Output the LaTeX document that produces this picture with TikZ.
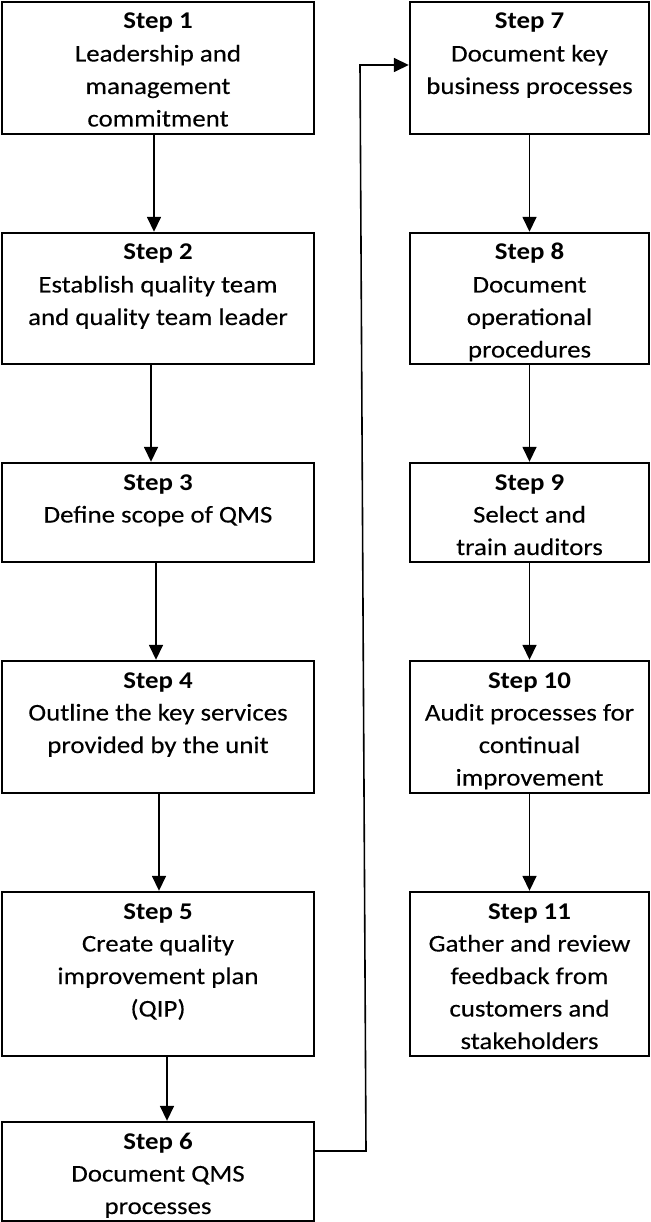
\documentclass[tikz,border=0pt]{standalone}
\usepackage{fontspec}
\setmainfont{Carlito}[FakeStretch=1.12, UprightFeatures={FakeBold=0.2}]
\usetikzlibrary{arrows.meta}
\newcommand{\bx}[3]{\parbox[c][#2pt][t]{#1pt}{\centering\rule{0pt}{27pt}#3}}
\begin{document}
\begin{tikzpicture}[x=1pt,y=-1pt,
  box/.style={draw, line width=2.4pt, inner sep=0pt},
  arr/.style={line width=1.6pt, -{Triangle[length=15pt,width=14pt]}},
  font=\fontsize{24pt}{32.5pt}\selectfont]
\fill[white] (0,0) rectangle (650,1222);
\useasboundingbox (0,0) rectangle (650,1222);
% left column
\node[box] (b1) at (158,68) {\bx{312}{132}{\textbf{Step 1}\\Leadership and\\management\\commitment}};
\node[box] (b2) at (158,298.5) {\bx{312}{131}{\textbf{Step 2}\\Establish quality team\\and quality team leader}};
\node[box] (b3) at (158,512.5) {\bx{312}{99}{\textbf{Step 3}\\Define scope of QMS}};
\node[box] (b4) at (158,727) {\bx{312}{132}{\textbf{Step 4}\\Outline the key services\\provided by the unit}};
\node[box] (b5) at (158,974) {\bx{312}{164}{\textbf{Step 5}\\Create quality\\improvement plan\\(QIP)}};
\node[box] (b6) at (158,1171.5) {\bx{312}{99}{\textbf{Step 6}\\Document QMS\\processes}};
% right column
\node[box] (b7) at (529.5,68) {\bx{239}{132}{\textbf{Step 7}\\Document key\\business processes}};
\node[box] (b8) at (529.5,298.5) {\bx{239}{131}{\textbf{Step 8}\\Document\\operational\\procedures}};
\node[box] (b9) at (529.5,512.5) {\bx{239}{99}{\textbf{Step 9}\\Select and\\train auditors}};
\node[box] (b10) at (529.5,727) {\bx{239}{132}{\textbf{Step 10}\\Audit processes for\\continual\\improvement}};
\node[box] (b11) at (529.5,974) {\bx{239}{164}{\textbf{Step 11}\\Gather and review\\feedback from\\customers and\\stakeholders}};
% connectors
\draw[arr] ([xshift=-4pt]b1.south) -- ([xshift=-4pt]b2.north);
\draw[arr] ([xshift=-7pt]b2.south) -- ([xshift=-7pt]b3.north);
\draw[arr] ([xshift=-2pt]b3.south) -- ([xshift=-2pt]b4.north);
\draw[arr] ([xshift=1pt]b4.south) -- ([xshift=1pt]b5.north);
\draw[arr] ([xshift=9pt]b5.south) -- ([xshift=9pt]b6.north);
\coordinate (c1) at (366,1151);
\coordinate (c2) at (360,65);
\draw[arr] ([yshift=20.5pt]b6.east) -- (c1) -- (c2) -- (c2 -| b7.west);
\draw[arr] (b7.south) -- (b8.north);
\draw[arr] (b8.south) -- (b9.north);
\draw[arr] (b9.south) -- (b10.north);
\draw[arr] (b10.south) -- (b11.north);
\end{tikzpicture}
\end{document}
